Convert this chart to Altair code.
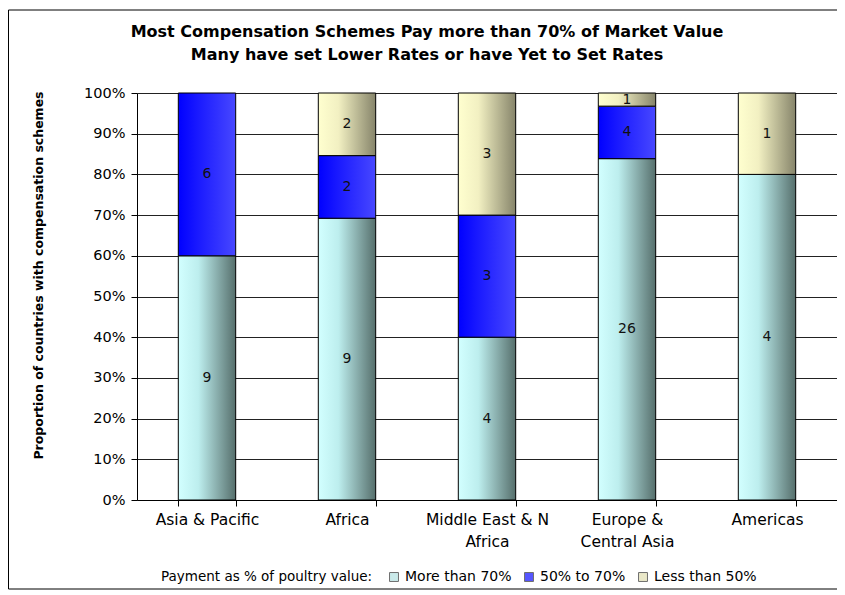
import altair as alt
import pandas as pd

regions = ["Asia & Pacific", "Africa", "Middle East & N Africa", "Europe & Central Asia", "Americas"]
series = ["More than 70%", "50% to 70%", "Less than 50%"]
more_than_70 = [9, 9, 4, 26, 4]
from_50_to_70 = [6, 2, 3, 4, 0]
less_than_50 = [0, 2, 3, 1, 1]

title_lines = ["Most Compensation Schemes Pay more than 70% of Market Value",
               "Many have set Lower Rates or have Yet to Set Rates"]
y_title = "Proportion of countries with compensation schemes"
legend_title = "Payment as % of poultry value:"

rows = []
for i, r in enumerate(regions):
    for k, (s, vals) in enumerate(zip(series, [more_than_70, from_50_to_70, less_than_50])):
        rows.append({"region": r, "series": s, "order": k, "count": vals[i]})
df = pd.DataFrame(rows)

FONT = "DejaVu Sans"


def grad(c0, cm, c1):
    return alt.LinearGradient(
        gradient="linear", x1=0, y1=0, x2=1, y2=0,
        stops=[alt.GradientStop(color=c0, offset=0),
               alt.GradientStop(color=cm, offset=0.35),
               alt.GradientStop(color=c1, offset=1)])


fills = [grad("#d2ffff", "#bdeeee", "#566f6c"),
         grad("#0000ff", "#1a1aff", "#4848ff"),
         grad("#ffffcf", "#f2f0c2", "#86846a")]
legend_colors = ["#b4e2e2", "#1010ff", "#e2dfb2"]

x_enc = alt.X("region:N", sort=regions,
              scale=alt.Scale(domain=regions, paddingInner=0.59, paddingOuter=0.295),
              axis=alt.Axis(title=None, labelAngle=0, labelFontSize=15.5, labelFont=FONT,
                            labelColor="black", labelPadding=6, labelLineHeight=22,
                            tickBand="extent", tickSize=6, tickColor="black",
                            domainColor="black", grid=False,
                            labelExpr="datum.label == 'Middle East & N Africa' ? ['Middle East & N', 'Africa'] : datum.label == 'Europe & Central Asia' ? ['Europe &', 'Central Asia'] : datum.label"))

y_scale = alt.Scale(domain=[0, 1], nice=False)

base = alt.Chart(df).transform_stack(
    stack="count", groupby=["region"], as_=["y0", "y1"], offset="normalize",
    sort=[alt.SortField("order", order="ascending")]
).transform_calculate(mid="(datum.y0 + datum.y1) / 2")

grid = base.transform_filter("datum.series == 'More than 70%'").mark_rule(opacity=0).encode(
    y=alt.Y("y1:Q", scale=y_scale,
            axis=alt.Axis(title=y_title, format="%", values=[i / 10 for i in range(11)],
                          labelFontSize=14.5, labelFont=FONT, labelColor="black",
                          labelPadding=6, tickSize=6, tickColor="black",
                          domainColor="black", grid=True, gridColor="#222222",
                          gridWidth=1, titleFont=FONT, titleFontSize=12.5,
                          titleFontWeight="bold", titleColor="black",
                          titleX=-99, titleY=182, titleAlign="center",
                          titleBaseline="middle", titleAngle=-90)),
    x=x_enc)

layers = [grid]
for s, f in zip(series, fills):
    layers.append(
        base.transform_filter(f"datum.series == '{s}' && datum.count > 0")
        .mark_bar(fill=f, stroke="black", strokeWidth=1)
        .encode(x=x_enc, y=alt.Y("y1:Q", scale=y_scale), y2="y0:Q"))

texts = base.transform_filter("datum.count > 0").mark_text(
    fontSize=14, font=FONT, color="#111111", baseline="middle"
).encode(x=x_enc, y=alt.Y("mid:Q", scale=y_scale), text="count:Q")
layers.append(texts)

legend_layer = base.transform_filter("false").mark_square(size=80, filled=True).encode(
    color=alt.Color("series:N", scale=alt.Scale(domain=series, range=legend_colors),
                    legend=alt.Legend(title=legend_title, orient="none", direction="horizontal",
                                      legendX=24, legendY=477, titleOrient="left",
                                      titleFontSize=13.5, titleFontWeight="normal",
                                      titleFont=FONT, titleColor="black", titlePadding=14,
                                      titleLimit=400, labelLimit=300,
                                      labelFontSize=14, labelFont=FONT, labelColor="black",
                                      symbolType="square", symbolSize=80,
                                      symbolStrokeColor="#333333", symbolStrokeWidth=1,
                                      labelOffset=4, columnPadding=10, titleBaseline="middle")))
layers.append(legend_layer)

frame = alt.Chart(alt.Data(values=[{"f": 1}])).mark_rect(
    fillOpacity=0, stroke="black", strokeWidth=1
).encode(x=alt.value(-128.5), x2=alt.value(720), y=alt.value(-83), y2=alt.value(496))
layers.append(frame)

chart = alt.layer(*layers).properties(
    width=700, height=407,
    autosize=alt.AutoSizeParams(type="none"),
    padding={"left": 129, "top": 85, "right": 0, "bottom": 92},
    title=alt.Title(title_lines, fontSize=16, font=FONT, fontWeight="bold",
                    anchor="middle", dx=-60, dy=81, offset=28, lineHeight=23, color="black"),
).configure_view(strokeWidth=0).configure(background="white")

chart.save("out.html", embed_options={"renderer": "svg", "actions": False})
